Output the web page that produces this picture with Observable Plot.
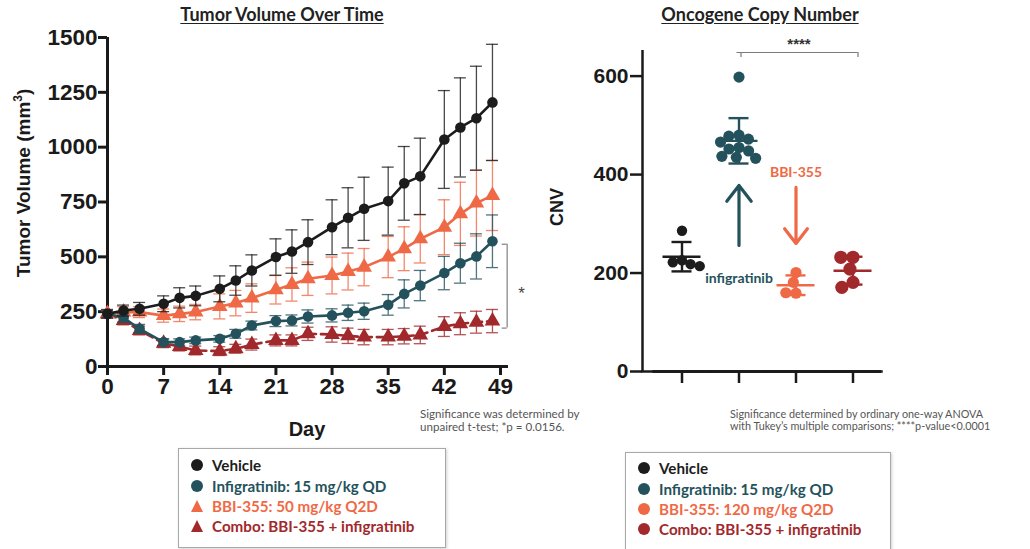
<!DOCTYPE html>
<html>
<head>
<meta charset="utf-8">
<script src="https://cdn.jsdelivr.net/npm/d3@7"></script>
<script src="https://cdn.jsdelivr.net/npm/@observablehq/plot@0.6"></script>
<style>
  html, body { margin: 0; padding: 0; background: #fff; }
  #root { position: relative; width: 1030px; height: 549px; overflow: hidden; font-family: Lato, "Open Sans", sans-serif; }
  .abs { position: absolute; white-space: nowrap; }
  .title { font-weight: 700; font-size: 18px; text-decoration: underline; text-underline-offset: 2px; color: #222; transform: translateX(-50%); }
  .axlab { font-family: "Liberation Sans", Arial, sans-serif; font-weight: 700; color: #1a1a1a; transform: translate(-50%, -50%); }
  .rot { transform: translate(-50%, -50%) rotate(-90deg); }
  .note { color: #555; }
  .legend { border: 1.5px solid #a8a8a8; box-shadow: 1px 1px 3px rgba(0,0,0,0.18); box-sizing: border-box; background: #fff; }
  .legend .row { display: flex; align-items: center; height: 20.4px; font-weight: 700; font-size: 15.2px; }
  .legend .sym { width: 14px; display: flex; justify-content: center; margin-right: 8px; }
  .circ { width: 12px; height: 12px; border-radius: 50%; }
  .tri { width: 0; height: 0; border-left: 6.5px solid transparent; border-right: 6.5px solid transparent; border-bottom-width: 12px; border-bottom-style: solid; }
</style>
</head>
<body>
<div id="root"></div>
<script>
// ---------------- Data: Tumor Volume Over Time ----------------
const days = [0, 2, 4, 7, 9, 11, 14, 16, 18, 21, 23, 25, 28, 30, 32, 35, 37, 39, 42, 44, 46, 48];
const vehicleMean = [240, 255, 263, 286, 313, 322, 354, 392, 438, 499, 524, 567, 635, 678, 719, 754, 835, 867, 1035, 1090, 1132, 1204];
const vehicleErr  = [20, 25, 29, 36, 46, 45, 59, 67, 71, 83, 99, 102, 125, 137, 144, 155, 168, 174, 223, 226, 237, 265];
const infigMean   = [240, 222, 172, 111, 111, 119, 126, 149, 187, 207, 210, 228, 233, 245, 252, 281, 331, 369, 426, 471, 502, 571];
const infigErr    = [15, 20, 20, 15, 15, 15, 15, 20, 20, 25, 25, 30, 30, 35, 37, 47, 64, 69, 76, 91, 103, 120];
const bbiMean     = [240, 248, 248, 232, 240, 248, 274, 289, 312, 350, 374, 400, 415, 433, 453, 499, 537, 582, 635, 696, 745, 780];
const bbiErr      = [15, 25, 25, 30, 35, 35, 57, 58, 65, 65, 76, 76, 84, 84, 85, 94, 100, 110, 125, 144, 150, 160];
const comboMean   = [240, 210, 164, 106, 91, 73, 70, 81, 100, 119, 119, 149, 146, 140, 134, 134, 138, 144, 182, 195, 202, 207];
const comboErr    = [15, 20, 20, 20, 20, 20, 20, 20, 25, 25, 25, 30, 35, 35, 35, 35, 35, 40, 45, 50, 50, 53];
const tumorGroups = ["Vehicle", "Infigratinib: 15 mg/kg QD", "BBI-355: 50 mg/kg Q2D", "Combo: BBI-355 + infigratinib"];
const dayTicks = [0, 7, 14, 21, 28, 35, 42, 49];
const volumeTicks = [0, 250, 500, 750, 1000, 1250, 1500];
const tumorSigLabel = "*";
const tumorNote = ["Significance was determined by", "unpaired t-test; *p = 0.0156."];

// ---------------- Data: Oncogene Copy Number ----------------
const cnvGroups = ["Vehicle", "Infigratinib", "BBI-355", "Combo"];
const cnvVehicle = [286, 226, 222, 218, 214];
const cnvInfig   = [598, 480, 478, 472, 466, 455, 452, 448, 437, 435, 433];
const cnvBBI     = [201, 181, 159, 160];
const cnvCombo   = [232, 232, 208, 181, 171];
const cnvTicks = [0, 200, 400, 600];
const cnvLegend = ["Vehicle", "Infigratinib: 15 mg/kg QD", "BBI-355: 120 mg/kg Q2D", "Combo: BBI-355 + infigratinib"];
const cnvArrowGroups = ["Infigratinib", "BBI-355"];
const cnvArrowFrom   = [256, 374];
const cnvArrowTo     = [378, 260];
const cnvArrowText   = ["infigratinib", "BBI-355"];
const cnvArrowTextY  = [189, 404];
const cnvSig = {from: "Infigratinib", to: "Combo", y: 648, label: "****"};
const cnvNote = ["Significance determined by ordinary one-way ANOVA", "with Tukey\u2019s multiple comparisons; ****p-value<0.0001"];

// ---------------- Styles ----------------
const colors = ["#1c1c1c", "#24525c", "#ef6946", "#a1282b"];
const tumorSymbols = ["circle", "circle", "triangle", "triangle"];
const axisFont = "'Liberation Sans', Arial, sans-serif";

const root = document.getElementById("root");
function addDiv(cls, style, html) {
  const d = document.createElement("div");
  d.className = "abs " + cls;
  Object.assign(d.style, style);
  d.innerHTML = html;
  root.appendChild(d);
  return d;
}

// ---------------- Left chart ----------------
const means = [vehicleMean, infigMean, bbiMean, comboMean];
const errs = [vehicleErr, infigErr, bbiErr, comboErr];
const rows = tumorGroups.flatMap((g, gi) => days.map((day, i) => ({group: g, day, mean: means[gi][i], err: errs[gi][i]})));
const lastDay = days[days.length - 1];
const sigTop = infigMean[infigMean.length - 1];
const sigBottom = comboMean[comboMean.length - 1];

const seriesMarks = [];
[3, 2, 1, 0].forEach(gi => {
  const data = rows.filter(d => d.group === tumorGroups[gi]);
  const c = colors[gi];
  const eb = {stroke: c, strokeWidth: 1.3, strokeOpacity: 0.8};
  seriesMarks.push(
    Plot.ruleX(data, {x: "day", y1: d => d.mean - d.err, y2: d => d.mean + d.err, ...eb}),
    Plot.ruleY(data, {x1: "day", x2: "day", y: d => d.mean + d.err, insetLeft: -6, insetRight: -6, ...eb}),
    Plot.ruleY(data, {x1: "day", x2: "day", y: d => d.mean - d.err, insetLeft: -6, insetRight: -6, ...eb}),
    Plot.line(data, {x: "day", y: "mean", stroke: c, strokeWidth: 2.6, strokeDasharray: gi === 3 ? "9,5" : undefined}),
    Plot.dot(data, {x: "day", y: "mean", fill: c, symbol: tumorSymbols[gi], r: tumorSymbols[gi] === "triangle" ? 5.8 : 5.3})
  );
});

const left = Plot.plot({
  width: 540, height: 440,
  marginLeft: 107, marginRight: 32, marginTop: 37, marginBottom: 74,
  x: {domain: [0, 50]},
  y: {domain: [0, 1500]},
  style: {fontFamily: axisFont, color: "#1a1a1a", background: "transparent", overflow: "visible"},
  marks: [
    Plot.axisX({ticks: dayTicks, tickSize: 9, tickPadding: 3, fontSize: 22.5, fontWeight: "bold", strokeWidth: 3, label: null, tickFormat: d => String(d)}),
    Plot.axisY({ticks: volumeTicks, tickSize: 9, tickPadding: 1, fontSize: 22.5, fontWeight: "bold", strokeWidth: 3, label: null, tickFormat: d => String(d)}),
    Plot.ruleY([0], {strokeWidth: 3, insetLeft: -1.5}),
    Plot.ruleX([0], {strokeWidth: 3, insetBottom: -1.5}),
    ...seriesMarks,
    // significance bracket between infigratinib and combo at the last day
    Plot.ruleX([0], {x: () => lastDay, y1: () => sigTop, y2: () => sigBottom, dx: 14.7, insetTop: 3, insetBottom: -7, stroke: "#8a8a8a", strokeWidth: 1.3}),
    Plot.ruleY([0], {x1: () => lastDay, x2: () => lastDay, y: () => sigTop, dx: 14.7, dy: 3, insetLeft: -5, stroke: "#8a8a8a", strokeWidth: 1.3}),
    Plot.ruleY([0], {x1: () => lastDay, x2: () => lastDay, y: () => sigBottom, dx: 14.7, dy: 7, insetLeft: -5, stroke: "#8a8a8a", strokeWidth: 1.3}),
    Plot.text([0], {x: () => lastDay, y: () => (sigTop + sigBottom) / 2, text: () => tumorSigLabel, dx: 29, dy: 12, fontSize: 17, fill: "#444"})
  ]
});
const leftWrap = addDiv("", {left: "0px", top: "0px"}, "");
leftWrap.appendChild(left);

// ---------------- Right chart ----------------
const cnvValues = [cnvVehicle, cnvInfig, cnvBBI, cnvCombo];
const cnvRows = cnvGroups.flatMap((g, gi) => cnvValues[gi].map(v => ({group: g, value: v})));
const cnvStats = cnvGroups.map((g, gi) => ({group: g, mean: d3.mean(cnvValues[gi]), sd: d3.deviation(cnvValues[gi])}));
const arrows = cnvArrowGroups.map((g, i) => ({group: g, from: cnvArrowFrom[i], to: cnvArrowTo[i], text: cnvArrowText[i], ty: cnvArrowTextY[i]}));
const sigSpan = 2 * (cnvGroups.indexOf(cnvSig.to) - cnvGroups.indexOf(cnvSig.from));
const restSpan = 2 * (cnvGroups.length - 1 - cnvGroups.indexOf(cnvSig.from)) + 1; // right edge of last category, from the 2nd facet
const dotR = {"Vehicle": 5.2, "Infigratinib": 5.6, "BBI-355": 5.6, "Combo": 6.6};
const statStyle = {fx: "group", stroke: "group", strokeWidth: 2.4};

const right = Plot.plot({
  width: 360, height: 440,
  marginLeft: 112, marginRight: 18, marginTop: 51, marginBottom: 69,
  fx: {domain: cnvGroups, padding: 0, axis: null, label: null},
  x: {domain: [-1, 1], axis: null},
  y: {domain: [0, 650]},
  color: {domain: cnvGroups, range: colors},
  style: {fontFamily: axisFont, color: "#1a1a1a", background: "transparent", overflow: "visible"},
  marks: [
    Plot.axisY({ticks: cnvTicks, tickSize: 12, tickPadding: 2, dx: -11, fontSize: 21, fontWeight: "bold", strokeWidth: 2.5, label: null}),
    Plot.ruleX([cnvGroups[0]], {fx: d => d, x: () => -1, dx: -11, strokeWidth: 2.5, insetTop: -1}),
    // x-axis baseline: per-facet rules, a frame bottom, a spanning rule from the 2nd facet, and an extension to the y axis
    Plot.ruleY([0], {strokeWidth: 2.5, stroke: "#1a1a1a"}),
    Plot.frame({anchor: "bottom", strokeWidth: 2.5, stroke: "#1a1a1a"}),
    Plot.ruleY([cnvSig.from], {fx: d => d, x1: () => -1, x2: () => restSpan, y: () => 0, strokeWidth: 2.5, stroke: "#1a1a1a"}),
    Plot.ruleY([cnvGroups[0]], {fx: d => d, y: () => 0, insetLeft: -12.2, strokeWidth: 2.5, stroke: "#1a1a1a"}),
    Plot.ruleX(cnvGroups, {fx: d => d, x: () => 0, y1: () => 0, y2: () => 0, insetBottom: -12, strokeWidth: 2.5, stroke: "#1a1a1a"}),
    ...cnvGroups.map(g => Plot.dot(cnvRows.filter(d => d.group === g),
      Plot.dodgeX({anchor: "middle", padding: -1}, {fx: "group", y: "value", fill: "group", r: dotR[g]}))),
    Plot.ruleX(cnvStats, {...statStyle, x: () => 0, y1: d => d.mean - d.sd, y2: d => d.mean + d.sd}),
    Plot.ruleY(cnvStats, {...statStyle, x1: () => 0, x2: () => 0, y: d => d.mean + d.sd, insetLeft: -10, insetRight: -10}),
    Plot.ruleY(cnvStats, {...statStyle, x1: () => 0, x2: () => 0, y: d => d.mean - d.sd, insetLeft: -10, insetRight: -10}),
    Plot.ruleY(cnvStats, {...statStyle, x1: () => 0, x2: () => 0, y: "mean", insetLeft: -19, insetRight: -19}),
    Plot.arrow(arrows, {fx: "group", x1: () => 0, x2: () => 0, y1: "from", y2: "to", stroke: "group", strokeWidth: 3.2, headLength: 10, headAngle: 75}),
    Plot.text(arrows, {fx: "group", x: () => 0, y: "ty", text: "text", fill: "group", fontFamily: "Lato, sans-serif", fontWeight: "bold", fontSize: 14}),
    Plot.ruleY([cnvSig.from], {fx: d => d, x1: () => 0, x2: () => sigSpan, y: () => cnvSig.y, insetLeft: -2, insetRight: -5, stroke: "#7a7a7a", strokeWidth: 1.2}),
    Plot.ruleX([cnvSig.from], {fx: d => d, x: () => 0, y1: () => cnvSig.y, y2: () => cnvSig.y, dx: 2, insetBottom: -5, stroke: "#7a7a7a", strokeWidth: 1.2}),
    Plot.ruleX([cnvSig.from], {fx: d => d, x: () => sigSpan, y1: () => cnvSig.y, y2: () => cnvSig.y, dx: 5, insetBottom: -5, stroke: "#7a7a7a", strokeWidth: 1.2}),
    Plot.text([cnvSig.from], {fx: d => d, x: () => sigSpan / 2, y: () => cnvSig.y, text: () => cnvSig.label, dx: 3, dy: -8, fontSize: 15, fill: "#333", fontWeight: "bold"})
  ]
});
const rightWrap = addDiv("", {left: "540px", top: "0px"}, "");
rightWrap.appendChild(right);

// ---------------- Text: titles, axis labels, notes ----------------
addDiv("title", {left: "282px", top: "3px"}, "Tumor Volume Over Time");
addDiv("title", {left: "760px", top: "3px"}, "Oncogene Copy Number");
addDiv("axlab rot", {left: "23px", top: "183px", fontSize: "19px"}, "Tumor Volume (mm<sup style='font-size:12px'>3</sup>)");
addDiv("axlab", {left: "307px", top: "429px", fontSize: "20px"}, "Day");
addDiv("axlab rot", {left: "557px", top: "207px", fontSize: "18px"}, "CNV");
addDiv("note", {left: "420px", top: "408px", fontSize: "11.6px", lineHeight: "12.5px"}, tumorNote.join("<br>"));
addDiv("note", {left: "730px", top: "408px", fontSize: "10.8px", lineHeight: "11.8px"}, cnvNote.join("<br>"));

// ---------------- Legends ----------------
function legend(labels, symbols, box) {
  const d = addDiv("legend", box, "");
  labels.forEach((lab, i) => {
    const row = document.createElement("div");
    row.className = "row";
    row.style.color = colors[i];
    const sym = symbols[i] === "triangle"
      ? `<div class="tri" style="border-bottom-color:${colors[i]}"></div>`
      : `<div class="circ" style="background:${colors[i]}"></div>`;
    row.innerHTML = `<div class="sym">${sym}</div><span>${lab}</span>`;
    d.appendChild(row);
  });
  return d;
}
legend(tumorGroups, tumorSymbols, {left: "178px", top: "448px", width: "268px", height: "100px", padding: "6px 0 0 11px"});
legend(cnvLegend, cnvLegend.map(() => "circle"), {left: "625px", top: "452px", width: "266px", height: "120px", padding: "5px 0 0 11px"});
</script>
</body>
</html>
